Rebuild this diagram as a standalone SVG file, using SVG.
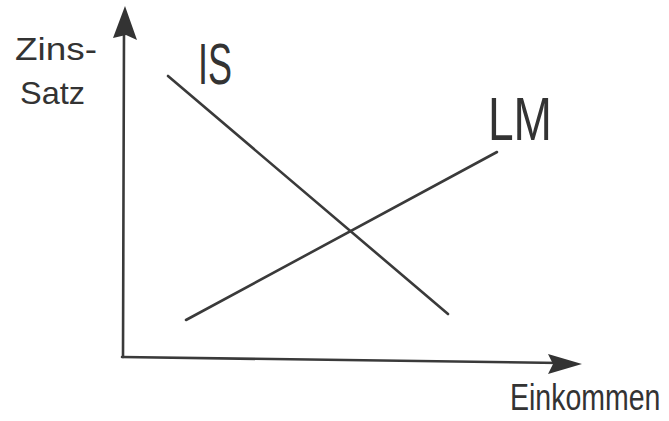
<svg xmlns="http://www.w3.org/2000/svg" width="669" height="421" viewBox="0 0 669 421">
<style>
.ln{stroke:#3a3a3a;stroke-width:2.6;fill:none;stroke-linecap:round}
.ah{fill:#333}
.t{font-family:"Liberation Sans",Arial,sans-serif;fill:#333}
</style>
<rect width="669" height="421" fill="#fff"/>
<g id="axes">
<path class="ln" d="M123,357 L124,30"/>
<path class="ah" d="M125,6 L137,40 L126,35 L113,38 Z"/>
<path class="ln" d="M122,357 L560,363"/>
<path class="ah" d="M582,364 L548,374 L553,364 L548,354 Z"/>
</g>
<g id="curves">
<path id="is-curve" class="ln" d="M168,76 L448,314"/>
<path id="lm-curve" class="ln" d="M186,320 L497,152"/>
</g>
<g id="labels">
<text class="t" x="15" y="60" font-size="32" textLength="82" lengthAdjust="spacingAndGlyphs">Zins-</text>
<text class="t" x="20" y="104" font-size="32" textLength="65" lengthAdjust="spacingAndGlyphs">Satz</text>
<text class="t" x="198" y="84" font-size="58" textLength="34" lengthAdjust="spacingAndGlyphs">IS</text>
<text class="t" x="488" y="140" font-size="62" textLength="64" lengthAdjust="spacingAndGlyphs">LM</text>
<text class="t" transform="translate(510,410) scale(1,1.3)" x="0" y="0" font-size="28.5">Einkommen</text>
</g>
</svg>
